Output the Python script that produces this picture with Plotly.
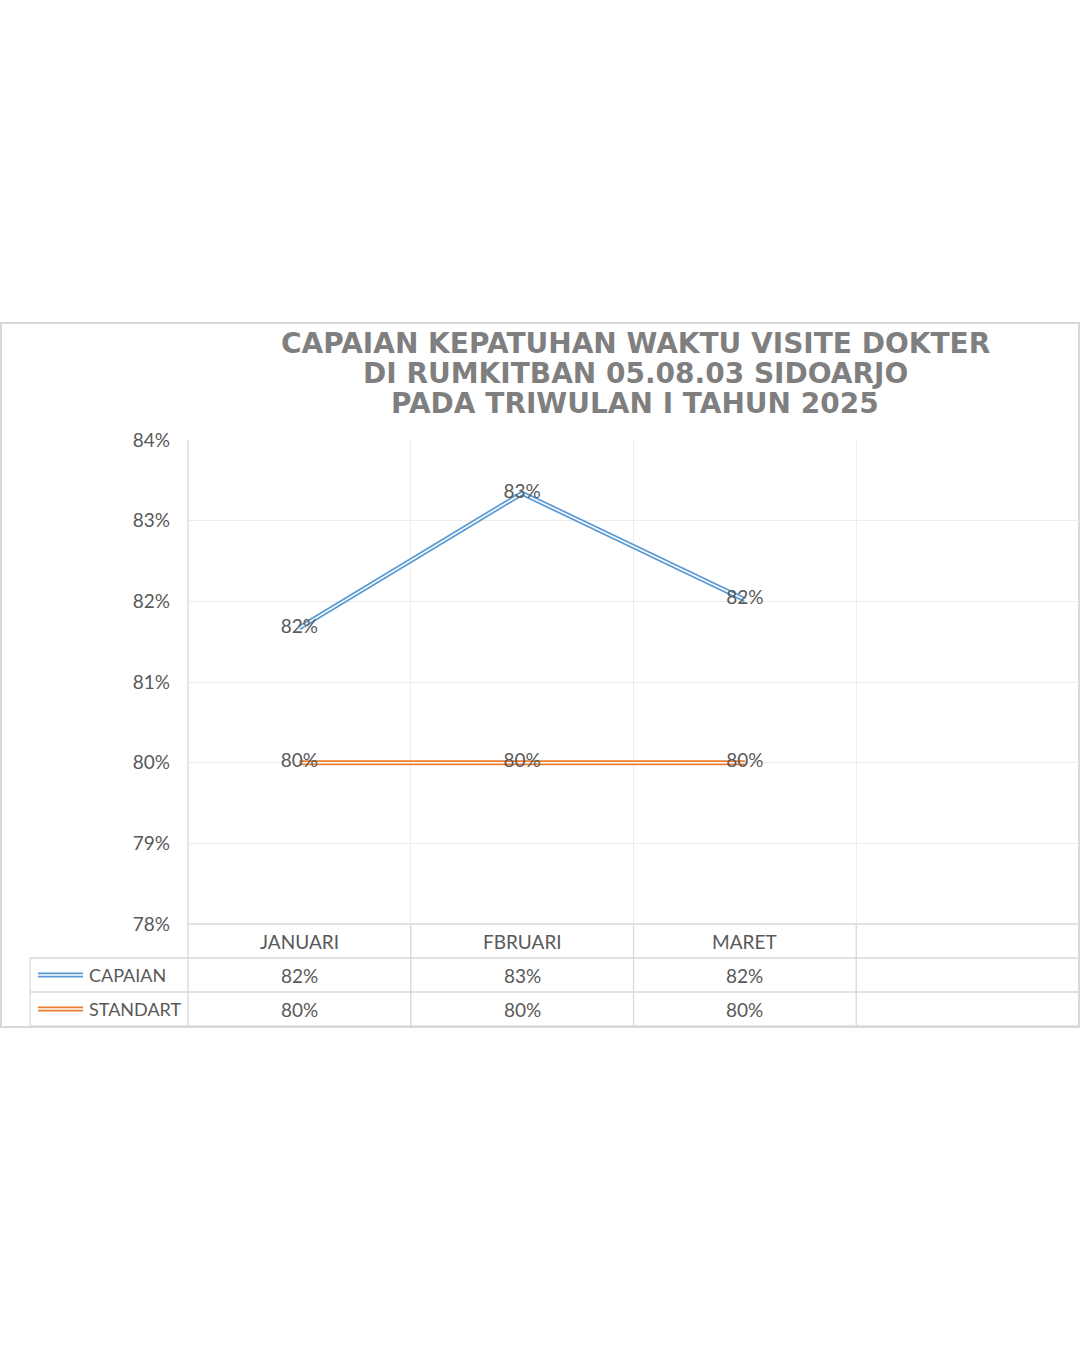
import plotly.graph_objects as go

# ---------------- data ----------------
MONTHS = ["JANUARI", "FBRUARI", "MARET"]
CAPAIAN = [0.8167, 0.8334, 0.8202]
STANDART = [0.80, 0.80, 0.80]
SERIES_NAMES = ["CAPAIAN", "STANDART"]
Y_TICKS = [0.78, 0.79, 0.80, 0.81, 0.82, 0.83, 0.84]
TITLE_LINES = [
    "CAPAIAN KEPATUHAN WAKTU VISITE DOKTER",
    "DI RUMKITBAN 05.08.03 SIDOARJO",
    "PADA TRIWULAN I TAHUN 2025",
]

# ---------------- layout helpers ----------------
W, H = 1080, 1350
L, R = 188, 1079
T, B = 440, 924


def px(x):
    return (x - L) / (R - L)


def py(y):
    return (B - y) / (B - T)


BLUE = "#5b9bd5"
ORANGE = "#ed7d31"
TXT = "#595959"
GRID = "#ececec"
BORDER = "#d9d9d9"
FONT = "Lato"
FS = 19

fig = go.Figure()
series = [(SERIES_NAMES[0], CAPAIAN, BLUE), (SERIES_NAMES[1], STANDART, ORANGE)]
for name, vals, col in series:
    fig.add_trace(go.Scatter(x=MONTHS, y=vals, mode="lines", line=dict(color=col, width=5),
                             name=name, showlegend=False, hoverinfo="skip"))
    fig.add_trace(go.Scatter(x=MONTHS, y=vals, mode="lines", line=dict(color="white", width=1.5),
                             showlegend=False, hoverinfo="skip"))
for name, vals, col in series:
    fig.add_trace(go.Scatter(x=MONTHS, y=vals, mode="text",
                             text=[f"{v:.0%}" for v in vals],
                             textposition="middle center",
                             textfont=dict(family=FONT, size=FS, color=TXT),
                             showlegend=False, hoverinfo="skip"))

shapes = []
annotations = []


def hline(y, x0, x1, color=BORDER, width=1.3):
    shapes.append(dict(type="line", xref="paper", yref="paper", x0=px(x0), x1=px(x1),
                       y0=py(y), y1=py(y), line=dict(color=color, width=width), layer="below"))


def vline(x, y0, y1, color=BORDER, width=1.3):
    shapes.append(dict(type="line", xref="paper", yref="paper", x0=px(x), x1=px(x),
                       y0=py(y0), y1=py(y1), line=dict(color=color, width=width), layer="below"))


# outer frame
shapes.append(dict(type="rect", xref="paper", yref="paper", x0=px(1), x1=px(1079),
                   y0=py(1027), y1=py(323), line=dict(color=BORDER, width=2), layer="below"))

# table lines
hline(924, 188, 1079)
for yy in (958, 992, 1026):
    hline(yy, 30, 1079)
vline(30, 958, 1026)
vline(188, 440, 1026)
for b in (0.5, 1.5, 2.5):
    shapes.append(dict(type="line", xref="x", yref="paper", x0=b, x1=b, y0=py(924), y1=py(1026),
                       line=dict(color=BORDER, width=1.3), layer="below"))

# table header (categories)
for i, m in enumerate(MONTHS):
    annotations.append(dict(x=i, y=py(941), xref="x", yref="paper", text=m, showarrow=False,
                            font=dict(family=FONT, size=FS, color=TXT), xanchor="center", yanchor="middle"))

# table rows
row_y = [975, 1009]
for (name, vals, col), ry in zip(series, row_y):
    annotations.append(dict(x=px(87), y=py(ry), xref="paper", yref="paper", text=name, showarrow=False,
                            font=dict(family=FONT, size=18, color=TXT), xanchor="left", yanchor="middle"))
    shapes.append(dict(type="line", xref="paper", yref="paper", x0=px(38), x1=px(83), y0=py(ry), y1=py(ry),
                       line=dict(color=col, width=5)))
    shapes.append(dict(type="line", xref="paper", yref="paper", x0=px(38), x1=px(83), y0=py(ry), y1=py(ry),
                       line=dict(color="white", width=1.5)))
    for i, v in enumerate(vals):
        annotations.append(dict(x=i, y=py(ry), xref="x", yref="paper", text=f"{v:.0%}", showarrow=False,
                                font=dict(family=FONT, size=FS, color=TXT), xanchor="center", yanchor="middle"))

# title
for ln, ty in zip(TITLE_LINES, (343, 373, 403)):
    annotations.append(dict(x=px(635), y=py(ty), xref="paper", yref="paper", text=ln, showarrow=False,
                            font=dict(family="DejaVu Sans", size=28, color="#7f7f7f", weight="bold"),
                            xanchor="center", yanchor="middle"))

fig.update_layout(
    width=W, height=H,
    margin=dict(l=L, r=W - R, t=T, b=H - B),
    paper_bgcolor="white", plot_bgcolor="white",
    shapes=shapes, annotations=annotations,
    xaxis=dict(type="category", categoryorder="array", categoryarray=MONTHS,
               range=[-0.5, 3.5], showticklabels=False, ticks="", tickson="boundaries",
               showgrid=True, gridcolor=GRID, gridwidth=1, showline=False, zeroline=False, fixedrange=True),
    yaxis=dict(range=[0.78, 0.84], tickvals=Y_TICKS, tickformat=".0%", showgrid=True,
               gridcolor=GRID, gridwidth=1, zeroline=False, showline=False,
               tickfont=dict(family=FONT, size=FS, color=TXT), ticklabelstandoff=17, fixedrange=True),
    showlegend=False,
)

fig.write_html("out.html")
